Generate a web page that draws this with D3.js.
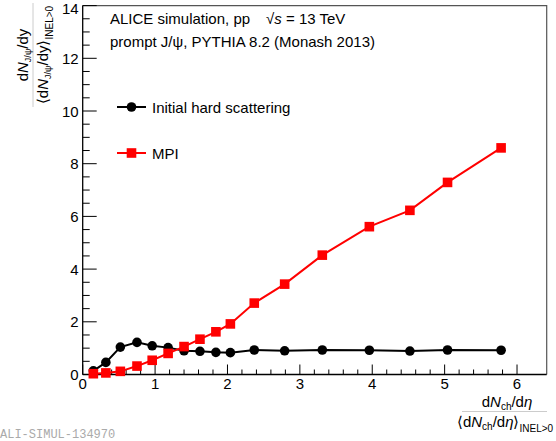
<!DOCTYPE html>
<html>
<head>
<meta charset="utf-8">
<script src="https://cdn.jsdelivr.net/npm/d3@7"></script>
<style>
  body { margin: 0; background: #fff; }
  svg text { font-family: "Liberation Sans", Arial, sans-serif; fill: #000; }
</style>
</head>
<body>
<div id="chart"></div>
<script>
// multiplicity bins (x) and the two J/psi production contributions
var multX = [0.147, 0.32, 0.52, 0.75, 0.96, 1.18, 1.40, 1.62, 1.84, 2.04, 2.37, 2.79, 3.31, 3.96, 4.52, 5.04, 5.78];
var hardScattering = [0.14, 0.46, 1.04, 1.22, 1.09, 1.02, 0.90, 0.88, 0.84, 0.83, 0.93, 0.90, 0.93, 0.92, 0.89, 0.93, 0.92];
var mpi = [0.03, 0.06, 0.12, 0.32, 0.54, 0.80, 1.06, 1.34, 1.62, 1.92, 2.71, 3.43, 4.53, 5.61, 6.23, 7.29, 8.60];
var seriesNames = ["Initial hard scattering", "MPI"];
var xTicks = [0, 1, 2, 3, 4, 5, 6];
var yTicks = [0, 2, 4, 6, 8, 10, 12, 14];

var width = 556, height = 441;
var frame = {left: 82.7, right: 546.7, top: 5.6, bottom: 374.5};

var svg = d3.select("#chart").append("svg")
    .attr("width", width)
    .attr("height", height);

var x = d3.scaleLinear().domain([0, 6.41]).range([frame.left, frame.right]);
var y = d3.scaleLinear().domain([0, 14]).range([frame.bottom, frame.top]);

// frame (top + right)
svg.append("path")
    .attr("d", "M" + frame.left + "," + frame.top + "H" + frame.right + "V" + frame.bottom)
    .attr("fill", "none")
    .attr("stroke", "#555")
    .attr("stroke-width", 1.2);

// y axis, ROOT style ticks pointing inside
var yAxis = svg.append("g").attr("transform", "translate(" + frame.left + ",0)");
yAxis.selectAll(".minor")
    .data(d3.range(0, 14.01, 0.5))
    .enter().append("line")
    .attr("x1", 0).attr("x2", function(d) { return d % 2 === 0 ? 14 : 7; })
    .attr("y1", function(d) { return y(d); }).attr("y2", function(d) { return y(d); })
    .attr("stroke", "#000").attr("stroke-width", 1);
yAxis.append("line")
    .attr("x1", 0).attr("x2", 0).attr("y1", frame.top).attr("y2", frame.bottom)
    .attr("stroke", "#000").attr("stroke-width", 1.3);
yAxis.selectAll(".lbl")
    .data(yTicks)
    .enter().append("text")
    .attr("x", -4)
    .attr("y", function(d) { return y(d) + (d === 14 ? 8 : 5.5); })
    .attr("text-anchor", "end")
    .style("font-size", "15px")
    .text(function(d) { return d; });

// x axis
var xAxis = svg.append("g").attr("transform", "translate(0," + frame.bottom + ")");
xAxis.selectAll(".minor")
    .data(d3.range(0, 31).map(function(i) { return i / 5; }).filter(function(d) { return d <= 6.41; }))
    .enter().append("line")
    .attr("x1", function(d) { return x(d); }).attr("x2", function(d) { return x(d); })
    .attr("y1", 0).attr("y2", function(d, i) { return i % 5 === 0 ? -10 : -5; })
    .attr("stroke", "#000").attr("stroke-width", 1);
xAxis.append("line")
    .attr("x1", frame.left).attr("x2", frame.right).attr("y1", 0).attr("y2", 0)
    .attr("stroke", "#000").attr("stroke-width", 1.3);
xAxis.selectAll(".lbl")
    .data(xTicks)
    .enter().append("text")
    .attr("x", function(d) { return x(d); })
    .attr("y", 14.5)
    .attr("text-anchor", "middle")
    .style("font-size", "15px")
    .text(function(d) { return d; });

// y title as a fraction
var yt = svg.append("g").attr("transform", "translate(33,55) rotate(-90)");
yt.append("line").attr("x1", -52).attr("x2", 52).attr("y1", 0).attr("y2", 0)
    .attr("stroke", "#ccc").attr("stroke-width", 1);
var yNum = yt.append("text").attr("x", 0).attr("y", -5).attr("text-anchor", "middle").style("font-size", "15px");
yNum.append("tspan").text("d");
yNum.append("tspan").style("font-style", "italic").text("N");
yNum.append("tspan").attr("dy", 3).style("font-size", "9px").text("J/\u03c8");
yNum.append("tspan").attr("dy", -3).text("/dy");
var yDen = yt.append("text").attr("x", 0).attr("y", 15).attr("text-anchor", "middle").style("font-size", "15px");
yDen.append("tspan").text("\u27e8d");
yDen.append("tspan").style("font-style", "italic").text("N");
yDen.append("tspan").attr("dy", 3).style("font-size", "9px").text("J/\u03c8");
yDen.append("tspan").attr("dy", -3).text("/dy\u27e9");
yDen.append("tspan").attr("dy", 5).style("font-size", "10px").text("INEL>0");

// x title as a fraction
var xt = svg.append("g").attr("transform", "translate(505,411.5)");
xt.append("line").attr("x1", -43).attr("x2", 42).attr("y1", 0).attr("y2", 0)
    .attr("stroke", "#ccc").attr("stroke-width", 1);
var xNum = xt.append("text").attr("x", 2).attr("y", -4.5).attr("text-anchor", "middle").style("font-size", "15px");
xNum.append("tspan").text("d");
xNum.append("tspan").style("font-style", "italic").text("N");
xNum.append("tspan").attr("dy", 3).style("font-size", "10px").text("ch");
xNum.append("tspan").attr("dy", -3).text("/d");
xNum.append("tspan").style("font-style", "italic").text("\u03b7");
var xDen = xt.append("text").attr("x", 0).attr("y", 15).attr("text-anchor", "middle").style("font-size", "15px");
xDen.append("tspan").text("\u27e8d");
xDen.append("tspan").style("font-style", "italic").text("N");
xDen.append("tspan").attr("dy", 3).style("font-size", "10px").text("ch");
xDen.append("tspan").attr("dy", -3).text("/d");
xDen.append("tspan").style("font-style", "italic").text("\u03b7");
xDen.append("tspan").text("\u27e9");
xDen.append("tspan").attr("dy", 5).style("font-size", "10px").text("INEL>0");

// header text
var h1 = svg.append("text").attr("x", 110).attr("y", 24).style("font-size", "15px");
h1.append("tspan").text("ALICE simulation, pp");
h1.append("tspan").attr("dx", 16).text("\u221a");
h1.append("tspan").style("font-style", "italic").text("s");
h1.append("tspan").text(" = 13 TeV");
svg.append("text").attr("x", 110).attr("y", 47).style("font-size", "15px")
    .text("prompt J/\u03c8, PYTHIA 8.2 (Monash 2013)");

// series
var line = d3.line()
    .x(function(d) { return x(d[0]); })
    .y(function(d) { return y(d[1]); });

var ihsPts = multX.map(function(d, i) { return [d, hardScattering[i]]; });
var mpiPts = multX.map(function(d, i) { return [d, mpi[i]]; });

svg.append("path").datum(ihsPts).attr("d", line)
    .attr("fill", "none").attr("stroke", "#000").attr("stroke-width", 2);
svg.append("path").datum(mpiPts).attr("d", line)
    .attr("fill", "none").attr("stroke", "#ff0000").attr("stroke-width", 2);

svg.selectAll(".ihs").data(ihsPts).enter().append("circle")
    .attr("cx", function(d) { return x(d[0]); })
    .attr("cy", function(d) { return y(d[1]); })
    .attr("r", 4.8).attr("fill", "#000");
svg.selectAll(".mpi").data(mpiPts).enter().append("rect")
    .attr("x", function(d) { return x(d[0]) - 4.8; })
    .attr("y", function(d) { return y(d[1]) - 4.8; })
    .attr("width", 9.6).attr("height", 9.6).attr("fill", "#ff0000");

// legend
var legend = svg.append("g");
seriesNames.forEach(function(name, i) {
    var ly = 107 + i * 46;
    var col = i === 0 ? "#000" : "#ff0000";
    legend.append("line").attr("x1", 117).attr("x2", 146).attr("y1", ly).attr("y2", ly)
        .attr("stroke", col).attr("stroke-width", 2);
    if (i === 0) {
        legend.append("circle").attr("cx", 131.5).attr("cy", ly).attr("r", 4.8).attr("fill", col);
    } else {
        legend.append("rect").attr("x", 126.7).attr("y", ly - 4.8).attr("width", 9.6).attr("height", 9.6).attr("fill", col);
    }
    legend.append("text").attr("x", 152).attr("y", ly + 5.5).style("font-size", "15px").text(name);
});

// watermark
svg.append("text").attr("x", 0).attr("y", 438)
    .style("font-family", "'Liberation Mono', 'DejaVu Sans Mono', monospace")
    .style("font-size", "12px").style("fill", "#aaa")
    .text("ALI-SIMUL-134970");
</script>
</body>
</html>
